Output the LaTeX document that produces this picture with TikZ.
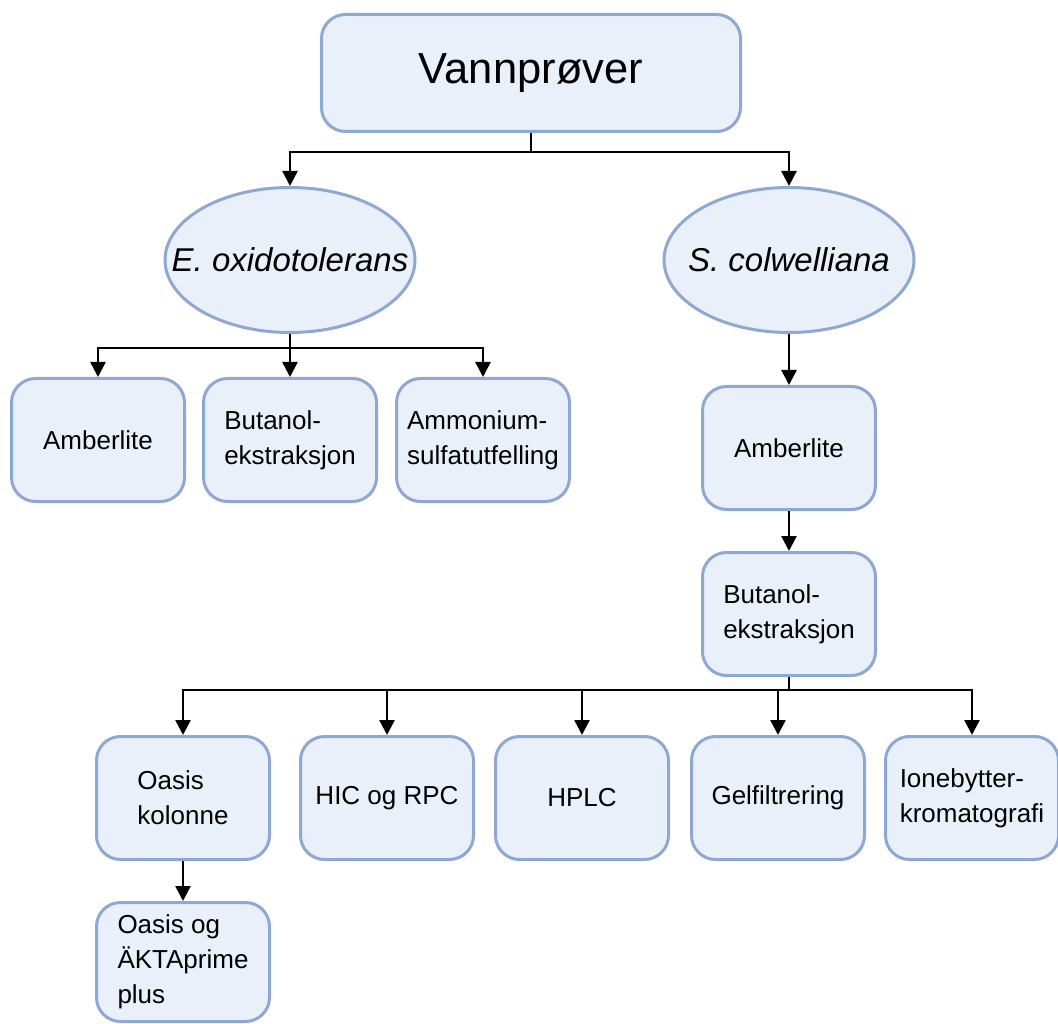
\documentclass[tikz,border=0pt]{standalone}
\usepackage{fontspec}
\setmainfont{Liberation Sans}
\usetikzlibrary{arrows.meta,shapes.geometric}

\definecolor{boxfill}{HTML}{E9F0FA}
\definecolor{boxline}{HTML}{8FA7D3}

\tikzset{
  box/.style={draw=boxline, fill=boxfill, line width=3pt, rounded corners=24pt,
    minimum width=173pt, minimum height=123pt, inner sep=0pt, align=left,
    font=\fontsize{26}{35}\selectfont},
  ell/.style={ellipse, draw=boxline, fill=boxfill, line width=3pt,
    minimum width=250pt, minimum height=145pt, inner sep=0pt},
  arr/.style={-{Triangle[length=15pt,width=15pt]}, line width=2.5pt},
  lin/.style={line width=2.5pt}
}

\begin{document}
\begin{tikzpicture}[x=1pt,y=-1pt]
\useasboundingbox (0,0) rectangle (1058,1024);

% top
\node[box, minimum width=419pt, minimum height=117pt, font=\fontsize{43.5}{50}\selectfont] (vann) at (531,73) {Vannprøver};

% species
\node[ell] (eox) at (290,260) {};
\node[font=\fontsize{33}{38}\selectfont\itshape] (eoxt) at (eox) {E. oxidotolerans};
\node[ell] (sco) at (789,260) {};
\node[font=\fontsize{33}{38}\selectfont\itshape] (scot) at (sco) {S. colwelliana};

% E. oxidotolerans methods
\node[box] (amb1) at (98,440) {Amberlite};
\node[box] (but1) at (290,440) {Butanol-\\ekstraksjon};
\node[box] (ams1) at (483,440) {Ammonium-\\sulfatutfelling};

% S. colwelliana chain
\node[box] (amb2) at (789,448) {Amberlite};
\node[box] (but2) at (789,614) {Butanol-\\ekstraksjon};

% purification
\node[box] (oas) at (183,798) {Oasis\\kolonne};
\node[box] (hic) at (387,798) {HIC og RPC};
\node[box] (hplc) at (582,798) {HPLC};
\node[box] (gel) at (778,798) {Gelfiltrering};
\node[box] (ion) at (972,798) {Ionebytter-\\kromatografi};
\node[box, minimum height=119pt] (akta) at (183,962) {Oasis og\\ÄKTAprime\\plus};

% connectors
\coordinate (j0) at (531,152);
\draw[lin] (vann.south) -- (j0);
\draw[arr] (j0) -| (eox.north);
\draw[arr] (j0) -| (sco.north);

\coordinate (j1) at (290,348);
\draw[lin] (eox.south) -- (j1);
\draw[arr] (j1) -| (amb1.north);
\draw[arr] (j1) -- (but1.north);
\draw[arr] (j1) -| (ams1.north);

\draw[arr] (sco.south) -- (amb2.north);
\draw[arr] (amb2.south) -- (but2.north);

\coordinate (j2) at (789,690);
\draw[lin] (but2.south) -- (j2);
\draw[arr] (j2) -| (oas.north);
\draw[arr] (j2) -| (hic.north);
\draw[arr] (j2) -| (hplc.north);
\draw[arr] (j2) -| (gel.north);
\draw[arr] (j2) -| (ion.north);

\draw[arr] (oas.south) -- (akta.north);

\end{tikzpicture}
\end{document}
